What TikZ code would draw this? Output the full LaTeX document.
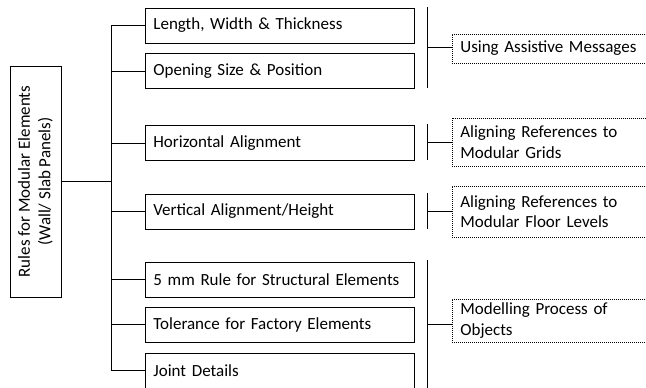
\documentclass[tikz,border=0pt]{standalone}
\usepackage{fontspec}
\setmainfont{Carlito}
\tikzset{
    rulebox/.style = {draw, line width = 0.8pt, anchor = west, minimum width = 269pt,
        minimum height = 35pt, text width = 253pt, inner xsep = 8pt, align = left},
    helpbox/.style = {draw, line width = 0.7pt, dash pattern = on 1pt off 1pt, anchor = west,
        minimum width = 250pt, text width = 234pt, inner xsep = 8pt, align = left},
}
\begin{document}
\begin{tikzpicture}[x = 1pt, y = -1pt, line width = 0.8pt,
        every node/.style = {font = \fontsize{17}{20.5}\selectfont}]
        \path [use as bounding box, clip] (0,0) rectangle (646,388);
        \pgfmathsetmacro{\bx}{145};
        \pgfmathsetmacro{\hx}{452};
        % root
        \node [draw, rotate = 90, minimum width = 231pt, minimum height = 51pt, align = center]
            (root) at (35.5,181.5) {Rules for Modular Elements\\(Wall/ Slab Panels)};
        % rules
        \node [rulebox] (b1) at (\bx, 25.5) {Length, Width \& Thickness};
        \node [rulebox] (b2) at (\bx, 71) {Opening Size \& Position};
        \node [rulebox] (b3) at (\bx, 143) {Horizontal Alignment};
        \node [rulebox] (b4) at (\bx, 211.5) {Vertical Alignment/Height};
        \node [rulebox] (b5) at (\bx, 279.5) {5 mm Rule for Structural Elements};
        \node [rulebox] (b6) at (\bx, 324.5) {Tolerance for Factory Elements};
        \node [rulebox] (b7) at (\bx, 370.5) {Joint Details};
        % tree
        \coordinate (trunk) at (111,0);
        \draw (root.south) -- (root.south -| trunk);
        \draw (b1.west) -- (b1.west -| trunk) -- (b7.west -| trunk) -- (b7.west);
        \foreach \b in {b2,b3,b4,b5,b6}
            \draw (\b.west) -- (\b.west -| trunk);
        % helps
        \node [helpbox, minimum height = 29pt] (h1) at (\hx, 48.5) {Using Assistive Messages};
        \node [helpbox, minimum height = 48pt] (h2) at (\hx, 142) {Aligning References to\\Modular Grids};
        \node [helpbox, minimum height = 51pt] (h3) at (\hx, 211.5) {Aligning References to\\Modular Floor Levels};
        \node [helpbox, minimum height = 43pt] (h4) at (\hx, 320.5) {Modelling Process of\\Objects};
        % bars
        \draw (427,7) -- (427,88);
        \draw (427,124) -- (427,160);
        \draw (427,193) -- (427,229);
        \draw (427,260) -- (427,392);
        \coordinate (g1) at (427,47.5);
        \coordinate (g2) at (427,142);
        \coordinate (g3) at (427,211);
        \coordinate (g4) at (427,324);
        \draw (g1) -- (g1 -| h1.west);
        \draw (g2) -- (g2 -| h2.west);
        \draw (g3) -- (g3 -| h3.west);
        \draw (g4) -- (g4 -| h4.west);
    \end{tikzpicture}
\end{document}
